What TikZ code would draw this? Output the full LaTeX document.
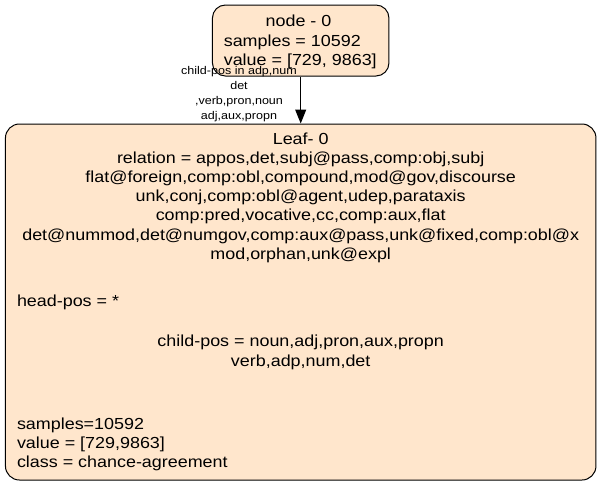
\documentclass[tikz,border=0pt]{standalone}
\usepackage{fontspec}
\setmainfont{Liberation Sans}[FakeStretch=1.12]
\usetikzlibrary{positioning, arrows.meta}
\definecolor{nodeorange}{RGB}{255, 230, 204}

\begin{document}
\begin{tikzpicture}[x=1pt, y=-1pt, line width=1pt,
    font=\fontsize{16}{19.2}\selectfont,
    every node/.style={inner sep=0pt},
    box/.style={draw, fill=nodeorange, line width=1pt},
    lab/.style={anchor=base},
    labl/.style={anchor=base west}]
  \useasboundingbox (0,0) rectangle (601,485);
  % Root node
  \node[box, rounded corners=13pt,
        minimum width=176.5pt, minimum height=71pt] (root) at (300.7,40.5) {};
  \node[lab] (rootid) at (298.5,26) {node - 0};
  \node[labl] (rootsamples) at (223.3,46) {samples = 10592};
  \node[labl] (rootvalue) at (223.3,65.2) {value = [729, 9863]};
  % Leaf node
  \node[box, rounded corners=14pt,
        minimum width=590.5pt, minimum height=356pt] (leaf) at (300.7,302) {};
  \node[lab] (leafid) at (300.7,144) {Leaf- 0};
  \node[lab] (leafrel1) at (300.7,163.3) {relation = appos,det,subj@pass,comp:obj,subj};
  \node[lab] (leafrel2) at (300.7,182.5) {flat@foreign,comp:obl,compound,mod@gov,discourse};
  \node[lab] (leafrel3) at (300.7,201.7) {unk,conj,comp:obl@agent,udep,parataxis};
  \node[lab] (leafrel4) at (300.7,220.9) {comp:pred,vocative,cc,comp:aux,flat};
  \node[lab] (leafrel5) at (300.7,240.1) {det@nummod,det@numgov,comp:aux@pass,unk@fixed,comp:obl@x};
  \node[lab] (leafrel6) at (300.7,259.3) {mod,orphan,unk@expl};
  \node[labl] (leafhead) at (16.5,306) {head-pos = *};
  \node[lab] (leafchild1) at (300.7,346.7) {child-pos = noun,adj,pron,aux,propn};
  \node[lab] (leafchild2) at (300.7,366) {verb,adp,num,det};
  \node[labl] (leafsamples) at (16.5,429.3) {samples=10592};
  \node[labl] (leafvalue) at (16.5,448.5) {value = [729,9863]};
  \node[labl] (leafclass) at (16.5,467.7) {class = chance-agreement};
  % Edge
  \draw[-{Triangle[length=14pt, width=11pt]}] (root) -- (leaf);
  \node[font=\fontsize{11.2}{15}\selectfont, align=center] (edgelabel) at (239,94)
       {child-pos in adp,num\\det\\,verb,pron,noun\\adj,aux,propn};
\end{tikzpicture}
\end{document}
